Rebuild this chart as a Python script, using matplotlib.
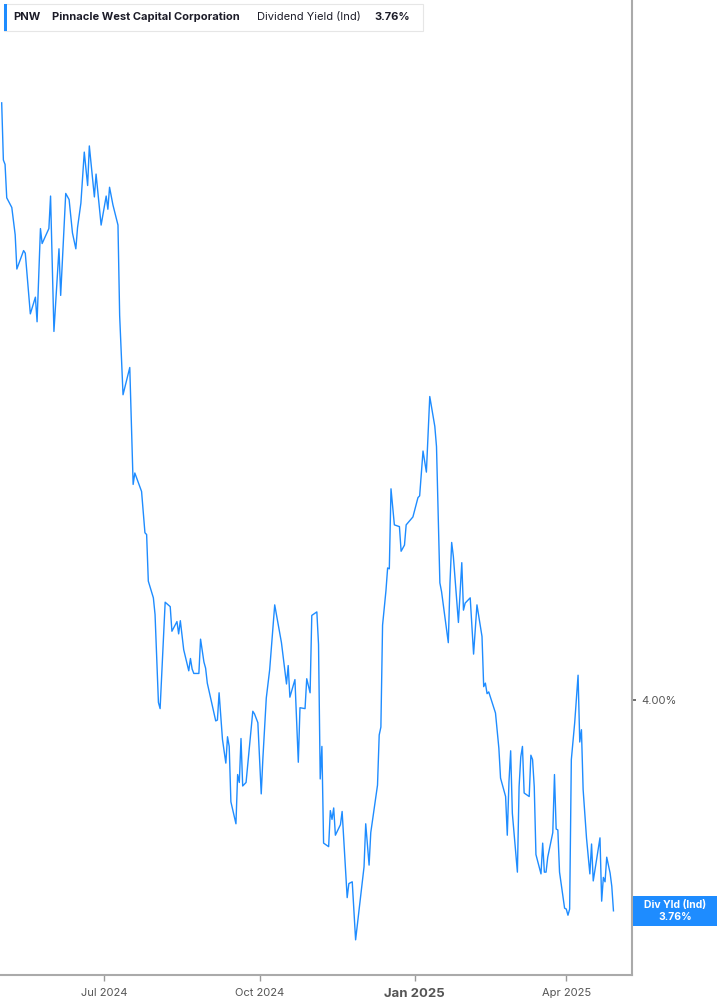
import datetime as dt
import numpy as np
import matplotlib
matplotlib.use('Agg')
import matplotlib.pyplot as plt
from matplotlib.patches import Rectangle

plt.rcParams['font.family'] = ['Inter', 'DejaVu Sans']

# dividend yield (days since 2024-05-01, percent)
start = dt.date(2024, 5, 1)
days = [0, 1, 2, 3, 6, 8, 9, 13, 14, 17, 20, 21, 23, 24, 28, 29, 31, 34, 35, 38,
        40, 42, 44, 45, 47, 49, 51, 52, 55, 56, 59, 62, 63, 64, 66, 69, 70, 72, 76, 78,
        79, 83, 85, 86, 87, 90, 91, 93, 94, 97, 100, 101, 104, 105, 106, 108, 111, 112, 113, 114,
        117, 118, 120, 121, 122, 127, 128, 129, 131, 133, 134, 135, 136, 139, 140, 141, 142, 143, 145, 147,
        149, 150, 152, 154, 155, 157, 159, 162, 166, 169, 170, 171, 174, 176, 177, 180, 181, 183, 184, 187,
        188, 189, 190, 191, 194, 195, 196, 197, 198, 201, 202, 205, 206, 208, 210, 215, 216, 218, 219, 223,
        224, 225, 226, 228, 229, 230, 231, 233, 236, 237, 239, 240, 244, 247, 248, 250, 252, 254, 257, 258,
        260, 261, 265, 266, 267, 268, 271, 273, 274, 275, 278, 280, 282, 285, 286, 287, 288, 289, 293, 295,
        296, 299, 300, 301, 302, 303, 306, 307, 308, 309, 310, 313, 314, 315, 316, 317, 320, 321, 322, 323,
        324, 327, 328, 329, 330, 331, 334, 335, 336, 337, 338, 340, 342, 343, 344, 345, 347, 349, 350, 351,
        355, 356, 357, 358, 359, 361, 362, 363]
yield_pct = [4.679, 4.614, 4.609, 4.571, 4.560, 4.529, 4.490, 4.511, 4.508, 4.439,
             4.458, 4.430, 4.536, 4.519, 4.536, 4.573, 4.419, 4.513, 4.460, 4.576,
             4.569, 4.531, 4.513, 4.537, 4.565, 4.623, 4.585, 4.630, 4.572, 4.598,
             4.540, 4.573, 4.558, 4.583, 4.563, 4.540, 4.437, 4.347, 4.378, 4.245,
             4.258, 4.237, 4.190, 4.188, 4.135, 4.116, 4.097, 3.997, 3.990, 4.111,
             4.106, 4.078, 4.089, 4.075, 4.090, 4.057, 4.033, 4.047, 4.035, 4.030,
             4.030, 4.069, 4.043, 4.036, 4.019, 3.976, 3.977, 4.008, 3.955, 3.928,
             3.958, 3.947, 3.884, 3.859, 3.915, 3.906, 3.956, 3.902, 3.906, 3.947,
             3.987, 3.984, 3.974, 3.893, 3.934, 4.002, 4.034, 4.108, 4.065, 4.018,
             4.039, 4.003, 4.023, 3.929, 3.991, 3.990, 4.024, 4.008, 4.096, 4.100,
             4.063, 3.910, 3.947, 3.837, 3.833, 3.874, 3.864, 3.877, 3.846, 3.858,
             3.873, 3.775, 3.791, 3.793, 3.727, 3.810, 3.859, 3.812, 3.849, 3.903,
             3.960, 3.969, 4.085, 4.124, 4.150, 4.149, 4.240, 4.199, 4.197, 4.169,
             4.176, 4.199, 4.208, 4.230, 4.232, 4.283, 4.259, 4.345, 4.311, 4.288,
             4.133, 4.123, 4.065, 4.133, 4.179, 4.163, 4.088, 4.156, 4.102, 4.110,
             4.116, 4.052, 4.108, 4.072, 4.015, 4.019, 4.007, 4.009, 3.985, 3.945,
             3.911, 3.890, 3.846, 3.907, 3.942, 3.871, 3.804, 3.901, 3.935, 3.947,
             3.894, 3.890, 3.937, 3.932, 3.901, 3.824, 3.802, 3.837, 3.804, 3.804,
             3.821, 3.849, 3.915, 3.853, 3.852, 3.804, 3.763, 3.762, 3.755, 3.762,
             3.932, 3.974, 4.028, 3.952, 3.966, 3.898, 3.843, 3.802, 3.836, 3.794,
             3.843, 3.771, 3.798, 3.793, 3.821, 3.803, 3.788, 3.760]

tick_dates = [dt.date(2024, 7, 1), dt.date(2024, 10, 1), dt.date(2025, 1, 1), dt.date(2025, 4, 1)]
tick_labels = ['Jul 2024', 'Oct 2024', 'Jan 2025', 'Apr 2025']
last_val = yield_pct[-1]

dates = [start + dt.timedelta(days=d) for d in days]

W, H = 717, 1005
fig = plt.figure(figsize=(W / 100, H / 100), dpi=100)
ax = fig.add_axes([0, 30 / H, 632 / W, 975 / H])

line_col = '#1e8cff'
ax.plot(dates, yield_pct, color=line_col, lw=1.0)

ax.set_xlim(dt.date(2024, 4, 30), dt.date(2025, 5, 10))
ax.set_ylim(3.687, 4.796)

for s in ['left', 'top']:
    ax.spines[s].set_visible(False)
for s in ['right', 'bottom']:
    ax.spines[s].set_color('#aaaaaa')
    ax.spines[s].set_linewidth(1.5)

ax.set_xticks(tick_dates)
ax.set_xticklabels(tick_labels)
ax.tick_params(axis='x', length=4, width=1, color='#999999', labelcolor='#555555',
               labelsize=8, pad=5)
for lab in ax.get_xticklabels():
    if lab.get_text() == 'Jan 2025':
        lab.set_fontweight('bold')
        lab.set_fontsize(9.5)

ax.yaxis.tick_right()
ax.set_yticks([4.0])
ax.set_yticklabels(['4.00%'])
ax.tick_params(axis='y', length=3, width=1.2, color='#555555', labelcolor='#555555',
               labelsize=8, pad=4)


def fx(px):
    return px / W


def fy(py):
    return 1 - py / H


# header box
fig.patches.append(Rectangle((fx(4), fy(31)), fx(419), 27 / H, transform=fig.transFigure,
                             facecolor='white', edgecolor='#e6e6e6', lw=0.8, zorder=5))
fig.patches.append(Rectangle((fx(4), fy(31)), fx(2.5), 27 / H, transform=fig.transFigure,
                             facecolor=line_col, edgecolor='none', zorder=6))
hy = fy(17)
fig.text(fx(13), hy, 'PNW', fontsize=8, fontweight='bold', color='#1c1c28', va='center', zorder=7)
fig.text(fx(52), hy, 'Pinnacle West Capital Corporation', fontsize=8, fontweight='bold',
         color='#1c1c28', va='center', zorder=7)
fig.text(fx(257), hy, 'Dividend Yield (Ind)', fontsize=8, color='#1c1c28', va='center', zorder=7)
fig.text(fx(374), hy, f'{last_val:.2f}%', fontsize=8, fontweight='bold', color='#1c1c28',
         va='center', zorder=7)

# last value tag on the right axis
fig.patches.append(Rectangle((fx(633), fy(926)), fx(84), 30 / H, transform=fig.transFigure,
                             facecolor=line_col, edgecolor='none', zorder=5))
fig.text(fx(675), fy(905), 'Div Yld (Ind)', fontsize=7.5, fontweight='bold', color='white',
         ha='center', va='center', zorder=7)
fig.text(fx(675), fy(917), f'{last_val:.2f}%', fontsize=7.5, fontweight='bold', color='white',
         ha='center', va='center', zorder=7)

fig.savefig('out.png', dpi=100)
